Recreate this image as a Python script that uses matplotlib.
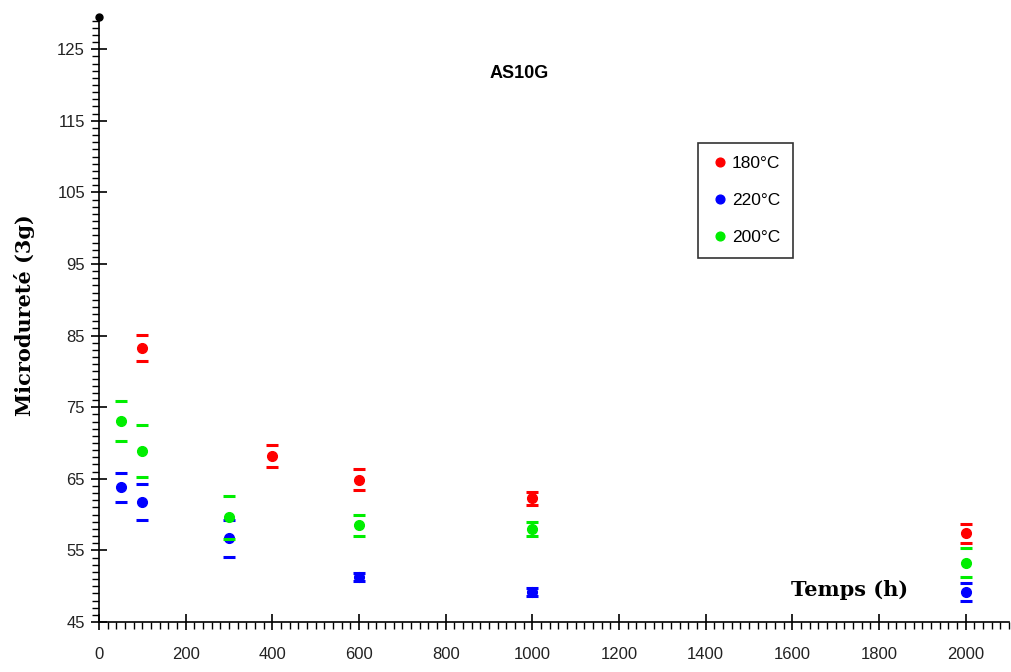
import matplotlib
matplotlib.use("Agg")
import matplotlib.pyplot as plt
from matplotlib.ticker import MultipleLocator, FixedLocator

# Data
t_180 = [100, 400, 600, 1000, 2000]
v_180 = [83.3, 68.2, 64.9, 62.3, 57.4]
e_180 = [1.8, 1.5, 1.4, 0.9, 1.3]

t_220 = [50, 100, 300, 600, 1000, 2000]
v_220 = [63.8, 61.8, 56.7, 51.3, 49.2, 49.2]
e_220 = [2.0, 2.5, 2.6, 0.6, 0.6, 1.2]

t_200 = [50, 100, 300, 600, 1000, 2000]
v_200 = [73.1, 68.9, 59.6, 58.5, 58.0, 53.3]
e_200 = [2.8, 3.6, 3.0, 1.5, 1.0, 2.0]

series = [("180°C", t_180, v_180, e_180, "#ff0000"),
          ("220°C", t_220, v_220, e_220, "#0000ff"),
          ("200°C", t_200, v_200, e_200, "#00ee00")]

yticks = [45, 55, 65, 75, 85, 95, 105, 115, 125]
xticks = [0, 200, 400, 600, 800, 1000, 1200, 1400, 1600, 1800, 2000]

fig = plt.figure(figsize=(10.12, 6.72), dpi=100)
ax = fig.add_axes([99/1012, 50/672, (1009-99)/1012, (655-50)/672])

handles = []
for label, t, v, e, c in series:
    ax.errorbar(t, v, yerr=e, fmt='none', ecolor=c, elinewidth=0,
                capsize=4.5, capthick=2.2)
    h, = ax.plot(t, v, 'o', color=c, markersize=7, linestyle='none', label=label)
    handles.append(h)

ax.set_xlim(0, 2100)
ax.set_ylim(45, 129.5)
for s in ['top', 'right']:
    ax.spines[s].set_visible(False)
for s in ['left', 'bottom']:
    ax.spines[s].set_linewidth(1.2)

ax.xaxis.set_major_locator(FixedLocator(xticks))
ax.xaxis.set_minor_locator(MultipleLocator(20))
ax.yaxis.set_major_locator(FixedLocator(yticks))
ax.yaxis.set_minor_locator(MultipleLocator(1))
ax.tick_params(axis='both', which='major', direction='inout', length=12, width=1.2,
               labelsize=12, colors='black')
ax.tick_params(axis='both', which='minor', direction='out', length=5, width=1)
ax.tick_params(axis='x', which='major', pad=12)
ax.tick_params(axis='y', which='major', pad=4)
for lbl in ax.get_xticklabels() + ax.get_yticklabels():
    lbl.set_fontfamily('Liberation Sans')
    lbl.set_color('#222222')

ax.plot([0], [129.5], 'o', color='black', markersize=5, clip_on=False)

fig.text(25/1012, 1 - 315/672, "Microdureté (3g)", fontfamily='DejaVu Serif',
         fontweight='bold', fontsize=15, rotation=90, ha='center', va='center')
ax.text(1733, 49.5, "Temps (h)", fontfamily='DejaVu Serif', fontweight='bold',
        fontsize=15, ha='center', va='center')
fig.text(519/1012, 1 - 73/672, "AS10G", fontfamily='Liberation Sans', fontweight='bold',
         fontsize=13, ha='center', va='center')

leg = ax.legend(handles=handles, loc='upper left',
                bbox_to_anchor=((698-99)/910, (622-143)/605),
                borderaxespad=0,
                frameon=True, fancybox=False, edgecolor='black',
                handletextpad=0.2, handlelength=1.0, borderpad=0.75, labelspacing=1.25,
                markerscale=0.9, prop={'family': 'Liberation Sans', 'size': 12.5})
leg.get_frame().set_linewidth(1.2)

fig.savefig("out.png", dpi=100)
